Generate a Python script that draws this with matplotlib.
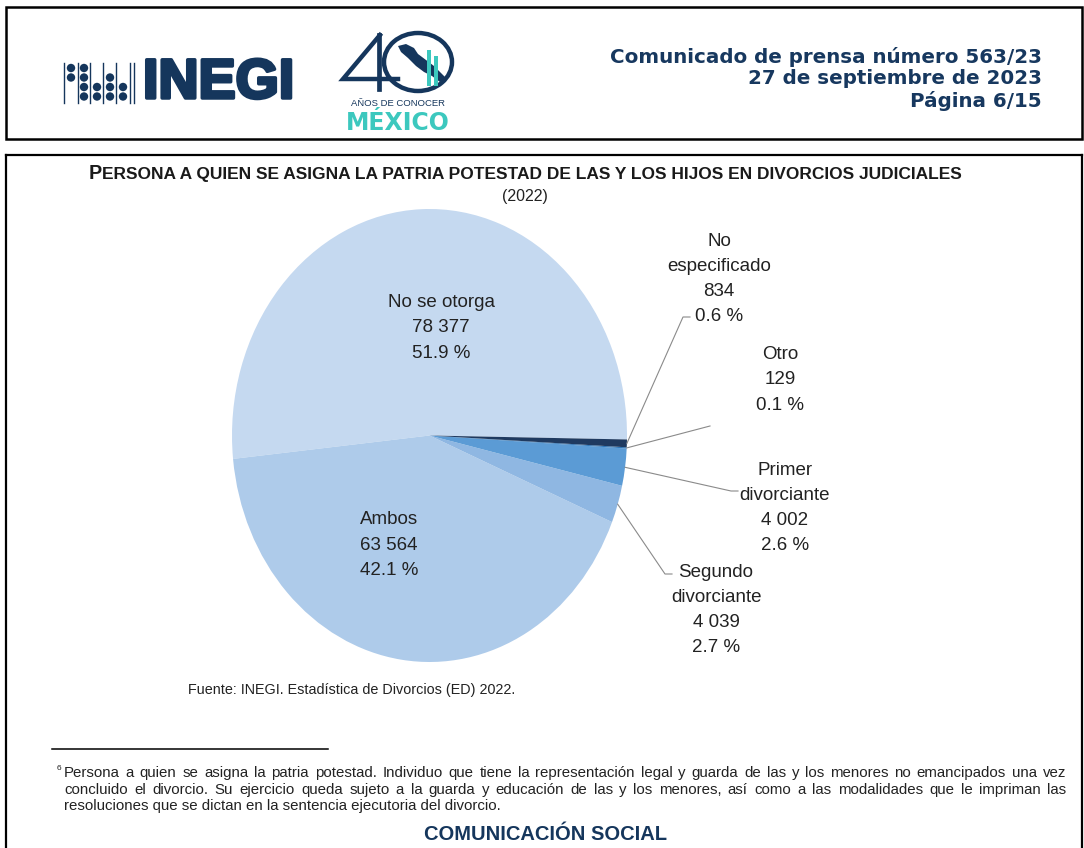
#...............................................................
#  INEGI comunicado 563/23, pagina 6: patria potestad en divorcios
#...............................................................
import numpy as np
import matplotlib
matplotlib.use("Agg")
import matplotlib.pyplot as plt
from matplotlib import font_manager
from matplotlib.patches import Circle, Ellipse, Rectangle, Polygon
import matplotlib.patheffects as pe

#...............................................................
# datos
categorias = ["No se otorga", "Ambos", "Segundo\ndivorciante",
              "Primer\ndivorciante", "Otro", "No\nespecificado"]
casos = [78377, 63564, 4039, 4002, 129, 834]
porcentajes = [51.9, 42.1, 2.7, 2.6, 0.1, 0.6]
colores = ["#c5d9f0", "#aecbea", "#8fb7e2", "#5b9bd5", "#2e75b6", "#1f3a60"]

titulo = "PERSONA A QUIEN SE ASIGNA LA PATRIA POTESTAD DE LAS Y LOS HIJOS EN DIVORCIOS JUDICIALES"
subtitulo = "(2022)"
fuente = "Fuente: INEGI. Estadística de Divorcios (ED) 2022."
encabezado = ["Comunicado de prensa número 563/23",
              "27 de septiembre de 2023",
              "Página 6/15"]
nota = ["Persona a quien se asigna la patria potestad. Individuo que tiene la representación legal y guarda de las y los menores no emancipados una vez",
        "concluido el divorcio. Su ejercicio queda sujeto a la guarda y educación de las y los menores, así como a las modalidades que le impriman las",
        "resoluciones que se dictan en la sentencia ejecutoria del divorcio."]

#...............................................................
# fuentes
nombres = {f.name for f in font_manager.fontManager.ttflist}
angosta = "Liberation Sans Narrow" if "Liberation Sans Narrow" in nombres else "Liberation Sans"
plt.rcParams["font.family"] = ["Liberation Sans", "DejaVu Sans"]

W, H = 1084, 848
azul = "#15365c"
fig = plt.figure(figsize=(W / 100, H / 100), dpi=100)

#...............................................................
# pastel (eliptico, como en el original) - va primero, debajo del texto
ax = fig.add_axes([232 / W, (H - 662) / H, 395 / W, 453 / H])
cunias, _ = ax.pie(casos, colors=colores, startangle=-1, counterclock=True,
                   wedgeprops=dict(linewidth=0))
ax.set_aspect("auto")
ax.set_xlim(-1, 1)
ax.set_ylim(-1, 1)
ax.axis("off")

# eje de dibujo en pixeles (y hacia abajo), encima del pastel
bg = fig.add_axes([0, 0, 1, 1])
bg.set_xlim(0, W)
bg.set_ylim(H, 0)
bg.axis("off")
r = fig.canvas.get_renderer()

#...............................................................
# encabezado
bg.add_patch(Rectangle((6, 7), 1076, 132, fill=False, lw=1.8, ec="black"))

# logo INEGI (abaco + texto)
for x in [64, 78, 90, 103, 116, 130, 134]:
    bg.plot([x, x], [63, 103], color=azul, lw=1.0)
puntos = {71: [0, 1], 84: [0, 1, 2, 3], 97: [2, 3], 110: [1, 2, 3], 123: [2, 3]}
for x, filas in puntos.items():
    for f in filas:
        bg.add_patch(Circle((x, 68 + 9.5 * f), 4.2, color=azul, lw=0))
bg.text(143, 84, "INEGI", fontsize=40, weight="bold", color=azul,
        va="center", ha="left",
        path_effects=[pe.withStroke(linewidth=2.5, foreground=azul)])

# logo 40 anios
bg.plot([380, 343, 398], [35, 79, 79], color=azul, lw=3.2, solid_joinstyle="miter")
bg.plot([379, 379], [35, 89], color=azul, lw=3.4)
bg.add_patch(Ellipse((418, 62), 68, 58, fill=False, ec=azul, lw=3.2))
bg.add_patch(Polygon([(398, 46), (406, 44), (414, 48), (418, 54), (426, 60),
                      (434, 66), (442, 74), (447, 79), (440, 82), (432, 76),
                      (424, 72), (416, 66), (408, 58), (401, 52)],
                     closed=True, color=azul, lw=0))
for x, y0 in [(427, 50), (434, 56)]:
    bg.add_patch(Rectangle((x, y0), 4, 86 - y0, color="#3cc8be", lw=0))
bg.text(398, 103, "AÑOS DE CONOCER", fontsize=6.8, color=azul, ha="center", va="center")
bg.text(398, 123, "MÉXICO", fontsize=17, weight="bold", color="#3cc8be",
        ha="center", va="center", family="DejaVu Sans")

# texto de la derecha
for i, linea in enumerate(encabezado):
    bg.text(1042, 57 + 22 * i, linea, fontsize=14.3, weight="bold", color="#17385f",
            ha="right", va="center", family="DejaVu Sans")

#...............................................................
# recuadro de la grafica
bg.plot([6, 1082], [155, 155], color="black", lw=1.6)
bg.plot([6, 6], [155, H], color="black", lw=1.6)
bg.plot([1082, 1082], [155, H], color="black", lw=1.6)

# titulo en versalitas
t1 = bg.text(0, 179, titulo[0], fontsize=14.2, weight="bold", color="#1a1a1a", va="baseline")
t2 = bg.text(0, 179, titulo[1:], fontsize=12.5, weight="bold", color="#1a1a1a", va="baseline")
w1 = t1.get_window_extent(r).width
w2 = t2.get_window_extent(r).width
x0 = 525 - (w1 + w2) / 2
t1.set_x(x0)
t2.set_x(x0 + w1)
bg.text(525, 197, subtitulo, fontsize=11.5, color="#222222", ha="center", va="center")

#...............................................................
# etiquetas: centro del bloque de texto (pixeles)
pos_etiquetas = [(441, 328), (389, 545), (716, 610), (785, 508), (780, 380), (719, 279)]
codos = {2: [(665, 574), (672, 574)],
         3: [(731, 491), (738, 491)],
         4: [(710, 426)],
         5: [(683, 317), (690, 317)]}

for i, (cat, n, p) in enumerate(zip(categorias, casos, porcentajes)):
    etiqueta = f"{cat}\n{n:,}".replace(",", " ") + f"\n{p:.1f} %"
    x, y = pos_etiquetas[i]
    bg.text(x, y, etiqueta, fontsize=13.5, color="#222222", ha="center",
            va="center", linespacing=1.63, zorder=5)
    if i in codos:
        c = cunias[i]
        ang = np.deg2rad((c.theta1 + c.theta2) / 2)
        px, py = ax.transData.transform((np.cos(ang), np.sin(ang)))
        xs = [px] + [q[0] for q in codos[i]]
        ys = [H - py] + [q[1] for q in codos[i]]
        bg.plot(xs, ys, color="#8a8a8a", lw=0.8, zorder=4)

bg.text(188, 690, fuente, fontsize=10.4, color="#222222", ha="left", va="center")

#...............................................................
# nota al pie
bg.plot([52, 328], [749, 749], color="black", lw=1.1)
bg.text(57, 769, "6", fontsize=6, color="#222222", ha="left", va="center")

def justificar(texto, x0, x1, y, **kw):
    palabras = texto.split()
    objs = [bg.text(0, y, w, ha="left", va="center", **kw) for w in palabras]
    anchos = [o.get_window_extent(r).width for o in objs]
    hueco = (x1 - x0 - sum(anchos)) / (len(palabras) - 1)
    x = x0
    for o, a in zip(objs, anchos):
        o.set_x(x)
        x += a + hueco

estilo_nota = dict(fontsize=10.8, color="#222222", family=angosta)
justificar(nota[0], 64, 1066, 773, **estilo_nota)
justificar(nota[1], 64, 1066, 790, **estilo_nota)
bg.text(64, 806, nota[2], ha="left", va="center", **estilo_nota)

bg.text(546, 834, "COMUNICACIÓN SOCIAL", fontsize=14.5, weight="bold", color=azul,
        ha="center", va="center", family=angosta)

fig.savefig("out.png", dpi=100)
